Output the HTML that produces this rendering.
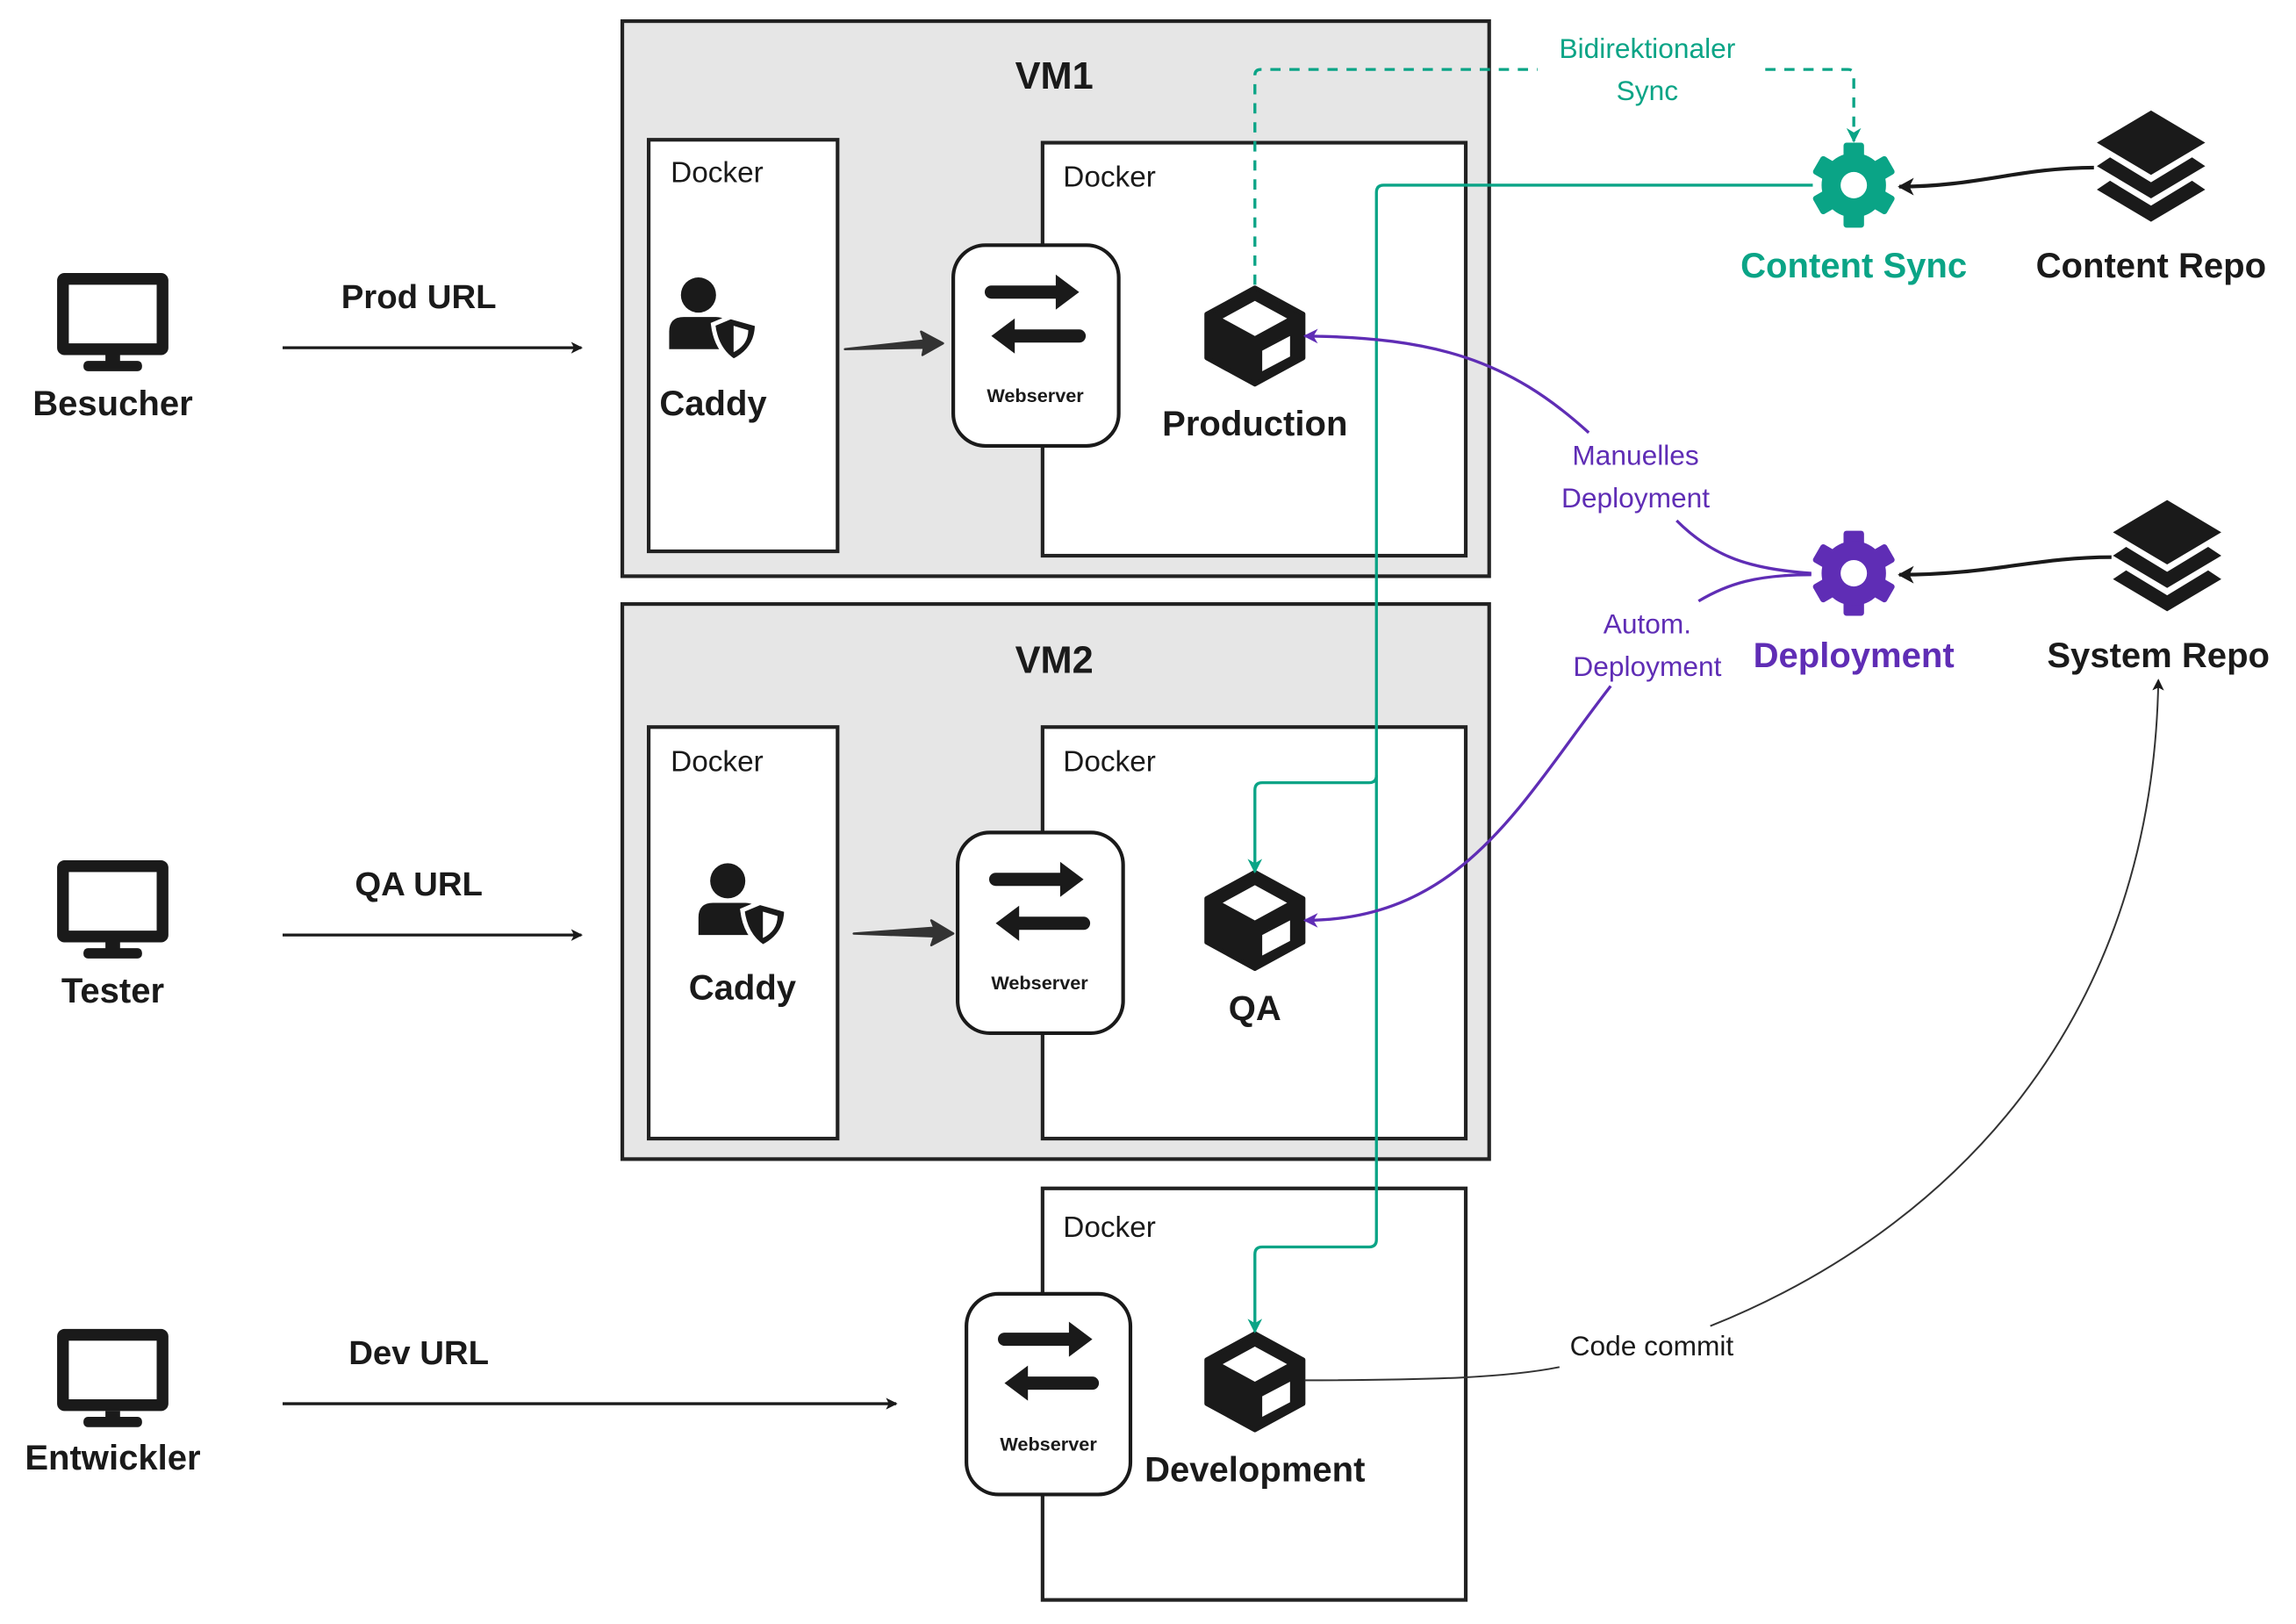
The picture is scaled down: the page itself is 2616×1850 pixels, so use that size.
<!DOCTYPE html>
<html><head><meta charset="utf-8"><style>
html,body{margin:0;padding:0;background:#fff;}
svg{display:block;}
text{font-family:"Liberation Sans",sans-serif;}
</style></head><body>
<svg width="2616" height="1850" viewBox="0 0 1568 1108" xmlns="http://www.w3.org/2000/svg">
<defs>
<marker id="ab" markerWidth="8" markerHeight="8" refX="7" refY="4" orient="auto" markerUnits="userSpaceOnUse"><path d="M0,0 L8,4 L0,8 L2,4 Z" fill="#1a1a1a"/></marker>
<marker id="at" markerWidth="10" markerHeight="10" refX="9" refY="5" orient="auto" markerUnits="userSpaceOnUse"><path d="M0,0 L10,5 L0,10 L3,5 Z" fill="#0aa486"/></marker>
<marker id="ap" markerWidth="10" markerHeight="10" refX="9" refY="5" orient="auto" markerUnits="userSpaceOnUse"><path d="M0,0 L10,5 L0,10 L3,5 Z" fill="#5f2db5"/></marker>
<marker id="ak" markerWidth="12" markerHeight="12" refX="10" refY="6" orient="auto" markerUnits="userSpaceOnUse"><path d="M0,0 L11,6 L0,12 L3,6 Z" fill="#1a1a1a"/></marker>
<g id="mon"><rect x="-38" y="-34" width="76" height="56" rx="5" fill="#1a1a1a"/><rect x="-30" y="-26" width="60" height="40" fill="#fff"/><rect x="-5" y="22" width="10" height="6" fill="#1a1a1a"/><rect x="-20" y="26" width="40" height="7" rx="3" fill="#1a1a1a"/></g>
<g id="cube"><path d="M0,-33 L33,-15 L33,15 L0,33 L-33,15 L-33,-15 Z" fill="#1a1a1a" stroke="#1a1a1a" stroke-width="3" stroke-linejoin="round"/><path d="M0,-24 L22,-12 L0,0 L-22,-12 Z" fill="#fff"/><path d="M5,10 L24,0 L24,14 L5,24 Z" fill="#fff"/></g>
<g id="ws"><path d="M-30,-18 H18" stroke="#1a1a1a" stroke-width="9" stroke-linecap="round"/><path d="M14,-30 L30,-18 L14,-6 Z" fill="#1a1a1a"/><path d="M30,12 H-18" stroke="#1a1a1a" stroke-width="9" stroke-linecap="round"/><path d="M-14,0 L-30,12 L-14,24 Z" fill="#1a1a1a"/></g>
<g id="caddy"><circle cx="-10" cy="-15" r="12" fill="#1a1a1a"/><path d="M-30,22 V10 Q-30,0 -20,0 H2 Q10,0 12,8 V22 Z" fill="#1a1a1a"/><path d="M12,0 L30,5 Q30,22 14,30 Q2,22 0,5 Z" fill="#1a1a1a" stroke="#fff" stroke-width="3"/><path d="M14,6 L24,9 Q24,19 14,24 Z" fill="#fff"/></g>
<g id="layers"><path d="M0,-38 L37,-16 L0,6 L-37,-16 Z" fill="#1a1a1a"/><path d="M-37,0 L-28,-6 L0,11 L28,-6 L37,0 L0,22 Z" fill="#1a1a1a"/><path d="M-37,16 L-28,10 L0,27 L28,10 L37,16 L0,38 Z" fill="#1a1a1a"/></g>
<g id="gear"><rect x="-7" y="-29" width="14" height="58" rx="2"/><rect x="-7" y="-29" width="14" height="58" rx="2" transform="rotate(60)"/><rect x="-7" y="-29" width="14" height="58" rx="2" transform="rotate(120)"/><circle r="22"/><circle r="9" fill="#fff"/></g>
</defs>

<!-- VM1 -->
<rect x="425" y="14" width="592" height="379" fill="#e6e6e6" stroke="#222" stroke-width="2.5"/>
<text x="720" y="60" font-size="26" font-weight="bold" text-anchor="middle" fill="#1a1a1a">VM1</text>
<rect x="443" y="95" width="129" height="281" fill="#fff" stroke="#222" stroke-width="2.5"/>
<text x="458" y="124" font-size="20" fill="#1a1a1a">Docker</text>
<rect x="712" y="97" width="289" height="282" fill="#fff" stroke="#222" stroke-width="2.5"/>
<text x="726" y="127" font-size="20" fill="#1a1a1a">Docker</text>
<rect x="651" y="167" width="113" height="137" rx="22" fill="#fff" stroke="#1a1a1a" stroke-width="2.5"/>
<use href="#ws" x="707" y="217"/>
<text x="707" y="274" font-size="13" font-weight="bold" text-anchor="middle" fill="#1a1a1a">Webserver</text>
<use href="#caddy" x="487" y="216"/>
<text x="487" y="283" font-size="24" font-weight="bold" text-anchor="middle" fill="#1a1a1a">Caddy</text>
<path d="M577,238 L631,232 L629,226 L644,234 L630,242 L631,237 Z" fill="#333" stroke="#333" stroke-width="1.5" stroke-linejoin="round"/>
<use href="#cube" x="857" y="229"/>
<text x="857" y="297" font-size="24" font-weight="bold" text-anchor="middle" fill="#1a1a1a">Production</text>

<!-- VM2 -->
<rect x="425" y="412" width="592" height="379" fill="#e6e6e6" stroke="#222" stroke-width="2.5"/>
<text x="720" y="459" font-size="26" font-weight="bold" text-anchor="middle" fill="#1a1a1a">VM2</text>
<rect x="443" y="496" width="129" height="281" fill="#fff" stroke="#222" stroke-width="2.5"/>
<text x="458" y="526" font-size="20" fill="#1a1a1a">Docker</text>
<rect x="712" y="496" width="289" height="281" fill="#fff" stroke="#222" stroke-width="2.5"/>
<text x="726" y="526" font-size="20" fill="#1a1a1a">Docker</text>
<rect x="654" y="568" width="113" height="137" rx="22" fill="#fff" stroke="#1a1a1a" stroke-width="2.5"/>
<use href="#ws" x="710" y="618"/>
<text x="710" y="675" font-size="13" font-weight="bold" text-anchor="middle" fill="#1a1a1a">Webserver</text>
<use href="#caddy" x="507" y="616"/>
<text x="507" y="682" font-size="24" font-weight="bold" text-anchor="middle" fill="#1a1a1a">Caddy</text>
<path d="M583,637 L638,633 L636,628 L651,637 L636,645 L638,639 Z" fill="#333" stroke="#333" stroke-width="1.5" stroke-linejoin="round"/>
<use href="#cube" x="857" y="628"/>
<text x="857" y="696" font-size="24" font-weight="bold" text-anchor="middle" fill="#1a1a1a">QA</text>

<!-- Dev docker -->
<rect x="712" y="811" width="289" height="281" fill="#fff" stroke="#222" stroke-width="2.5"/>
<text x="726" y="844" font-size="20" fill="#1a1a1a">Docker</text>
<rect x="660" y="883" width="112" height="137" rx="22" fill="#fff" stroke="#1a1a1a" stroke-width="2.5"/>
<use href="#ws" x="716" y="932"/>
<text x="716" y="990" font-size="13" font-weight="bold" text-anchor="middle" fill="#1a1a1a">Webserver</text>
<use href="#cube" x="857" y="943"/>
<text x="857" y="1011" font-size="24" font-weight="bold" text-anchor="middle" fill="#1a1a1a">Development</text>

<!-- users -->
<use href="#mon" x="77" y="220"/>
<text x="77" y="283" font-size="24" font-weight="bold" text-anchor="middle" fill="#1a1a1a">Besucher</text>
<use href="#mon" x="77" y="621"/>
<text x="77" y="684" font-size="24" font-weight="bold" text-anchor="middle" fill="#1a1a1a">Tester</text>
<use href="#mon" x="77" y="941"/>
<text x="77" y="1003" font-size="24" font-weight="bold" text-anchor="middle" fill="#1a1a1a">Entwickler</text>

<text x="286" y="210" font-size="23" font-weight="bold" text-anchor="middle" fill="#1a1a1a">Prod URL</text>
<line x1="193" y1="237" x2="397" y2="237" stroke="#1a1a1a" stroke-width="2" marker-end="url(#ab)"/>
<text x="286" y="611" font-size="23" font-weight="bold" text-anchor="middle" fill="#1a1a1a">QA URL</text>
<line x1="193" y1="638" x2="397" y2="638" stroke="#1a1a1a" stroke-width="2" marker-end="url(#ab)"/>
<text x="286" y="931" font-size="23" font-weight="bold" text-anchor="middle" fill="#1a1a1a">Dev URL</text>
<line x1="193" y1="958" x2="612" y2="958" stroke="#1a1a1a" stroke-width="2" marker-end="url(#ab)"/>

<!-- teal solid lines -->
<path d="M1238,126 H945 Q940,126 940,131 V529 Q940,534 935,534 H862 Q857,534 857,539 V595" fill="none" stroke="#0aa486" stroke-width="2" marker-end="url(#at)"/>
<path d="M940,529 V846 Q940,851 935,851 H862 Q857,851 857,856 V909" fill="none" stroke="#0aa486" stroke-width="2" marker-end="url(#at)"/>
<!-- teal dashed -->
<path d="M857,194 V51 Q857,47 861,47 H1262 Q1266,47 1266,51 V96" fill="none" stroke="#0aa486" stroke-width="2" stroke-dasharray="7,6" marker-end="url(#at)"/>
<rect x="1050" y="18" width="150" height="58" fill="#fff"/>
<text x="1125" y="39" font-size="19" text-anchor="middle" fill="#0aa486">Bidirektionaler</text>
<text x="1125" y="68" font-size="19" text-anchor="middle" fill="#0aa486">Sync</text>

<!-- content sync -->
<use href="#gear" x="1266" y="126" fill="#0aa486"/>
<text x="1266" y="189" font-size="24" font-weight="bold" text-anchor="middle" fill="#0aa486">Content Sync</text>
<use href="#layers" x="1469" y="113"/>
<text x="1469" y="189" font-size="24" font-weight="bold" text-anchor="middle" fill="#1a1a1a">Content Repo</text>
<path d="M1430,114 C1380,114 1350,127 1297,127" fill="none" stroke="#1a1a1a" stroke-width="2.5" marker-end="url(#ak)"/>

<!-- deployment -->
<use href="#gear" x="1266" y="391" fill="#5f2db5"/>
<text x="1266" y="455" font-size="24" font-weight="bold" text-anchor="middle" fill="#5f2db5">Deployment</text>
<use href="#layers" x="1480" y="379"/>
<text x="1474" y="455" font-size="24" font-weight="bold" text-anchor="middle" fill="#1a1a1a">System Repo</text>
<path d="M1442,380 C1390,380 1360,392 1297,392" fill="none" stroke="#1a1a1a" stroke-width="2.5" marker-end="url(#ak)"/>

<!-- purple curves -->
<path d="M1237,391 C1195,388 1170,380 1145,355" fill="none" stroke="#5f2db5" stroke-width="2"/>
<path d="M1085,295 C1030,245 980,230 891,229" fill="none" stroke="#5f2db5" stroke-width="2" marker-end="url(#ap)"/>
<text x="1117" y="317" font-size="19" text-anchor="middle" fill="#5f2db5">Manuelles</text>
<text x="1117" y="346" font-size="19" text-anchor="middle" fill="#5f2db5">Deployment</text>
<path d="M1237,392 C1200,392 1180,398 1160,410" fill="none" stroke="#5f2db5" stroke-width="2"/>
<path d="M1100,468 C1040,545 1000,628 891,628" fill="none" stroke="#5f2db5" stroke-width="2" marker-end="url(#ap)"/>
<text x="1125" y="432" font-size="19" text-anchor="middle" fill="#5f2db5">Autom.</text>
<text x="1125" y="461" font-size="19" text-anchor="middle" fill="#5f2db5">Deployment</text>

<!-- code commit -->
<path d="M891,942 C980,942 1030,940 1065,933" fill="none" stroke="#333" stroke-width="1.2"/>
<text x="1128" y="925" font-size="19" text-anchor="middle" fill="#1a1a1a">Code commit</text>
<path d="M1168,905 C1330,840 1470,700 1474,464" fill="none" stroke="#333" stroke-width="1.2" marker-end="url(#ab)"/>
</svg>
</body></html>
